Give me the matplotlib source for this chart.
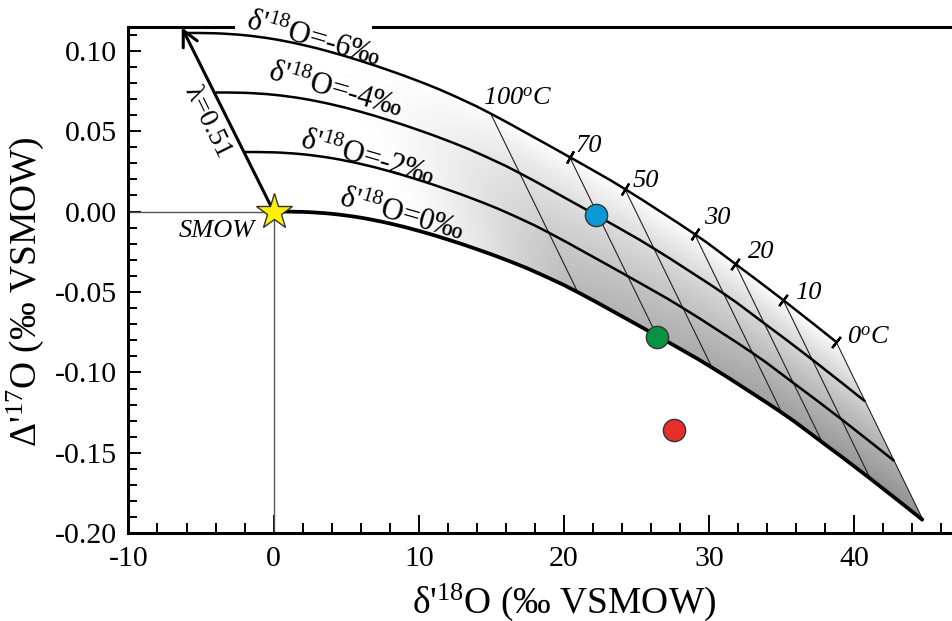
import numpy as np
import matplotlib.pyplot as plt
from matplotlib.path import Path
from matplotlib.patches import PathPatch
from matplotlib.ticker import MultipleLocator, FuncFormatter

plt.rcParams['font.family'] = ['Liberation Serif', 'DejaVu Serif']
plt.rcParams['mathtext.fontset'] = 'custom'
plt.rcParams['mathtext.rm'] = 'Liberation Serif'
plt.rcParams['mathtext.it'] = 'Liberation Serif:italic'
plt.rcParams['axes.unicode_minus'] = False

# water compositions on the lambda = 0.51 line (d'18O, D'17O)
water_d18 = [0, -2, -4, -6]
water_D17 = [0.0, 0.037, 0.074, 0.111]
water_names = ["δ'$^{18}$O=0‰", "δ'$^{18}$O=-2‰", "δ'$^{18}$O=-4‰", "δ'$^{18}$O=-6‰"]

# mineral - water offset on the hot side (above 100 C)
hot_d18 = [0.0, 2.0, 4.0, 6.0, 8.0, 10.0, 12.0, 14.0, 16.0, 18.0]
hot_D17 = [0.0, -0.0002, -0.0014, -0.0038, -0.0074, -0.0120, -0.0174, -0.0234, -0.0300, -0.0374]

# mineral - water offset at the labelled temperatures
iso_T = [100, 70, 50, 30, 20, 10, 0]
iso_names = ['100$^{o}$C', '70', '50', '30', '20', '10', '0$^{o}$C']
iso_d18 = [20.95, 26.4, 30.2, 35.0, 37.8, 41.1, 44.75]
iso_D17 = [-0.0501, -0.0772, -0.097, -0.125, -0.1435, -0.166, -0.192]

# measured samples
sample_d18 = [22.2, 26.4, 27.6]
sample_D17 = [-0.002, -0.078, -0.136]
sample_colors = ['#0a98d6', '#069442', '#e42f2a']

# end of the lambda = 0.51 arrow
lam_tip_d18, lam_tip_D17 = -6.33, 0.1145

xlim = (-10, 46.8)
ylim = (-0.20, 0.1149)

off_x = np.array(hot_d18 + iso_d18)
off_y = np.array(hot_D17 + iso_D17)


def smooth_verts(x, y):
    """Catmull-Rom through the points, returned as cubic Bezier vertices."""
    p = np.column_stack([x, y])
    q = np.vstack([p[:1], p, p[-1:]])
    verts = [p[0]]
    for i in range(len(p) - 1):
        p0, p1, p2, p3 = q[i], q[i + 1], q[i + 2], q[i + 3]
        verts += [p1 + (p2 - p0) / 6.0, p2 - (p3 - p1) / 6.0, p2]
    return np.array(verts)


def bezier_codes(n):
    return [Path.MOVETO] + [Path.CURVE4] * (n - 1)


fig = plt.figure(figsize=(9.53, 6.21), dpi=100)
ax = fig.add_axes([0.1348, 0.1412, 0.8652, 0.8158])
ax.set_xlim(*xlim)
ax.set_ylim(*ylim)

dw18 = water_d18[-1] - water_d18[0]
dw17 = water_D17[-1] - water_D17[0]

# grey band between the 0 and -6 permil curves
i0 = hot_d18.index(8.0)
ux, uy = off_x[i0:], off_y[i0:]
t = np.linspace(0, 1, 30)[:, None]
X = ux[None, :] + t * dw18
Y = uy[None, :] + t * dw17
amp = np.clip((ux - 10.0) / 10.5, 0, 1) ** 1.2 * (0.28 + 0.16 * np.clip((ux - 20.95) / 23.8, 0, 1))
C = 1 - amp[None, :] * (1 - t) ** 0.8
mesh = ax.pcolormesh(X, Y, C, shading='gouraud', cmap='gray', vmin=0, vmax=1, zorder=1)

lo = smooth_verts(water_d18[0] + ux, water_D17[0] + uy)
hi = smooth_verts(water_d18[-1] + ux, water_D17[-1] + uy)[::-1]
band = Path(np.vstack([lo, hi, lo[:1]]),
            bezier_codes(len(lo)) + [Path.LINETO] + [Path.CURVE4] * (len(hi) - 1) + [Path.CLOSEPOLY])
clip = PathPatch(band, transform=ax.transData, facecolor='none', edgecolor='none')
ax.add_patch(clip)
mesh.set_clip_path(clip)

# isotherms
for k in range(len(iso_T)):
    ax.plot([water_d18[-1] + iso_d18[k], water_d18[0] + iso_d18[k]],
            [water_D17[-1] + iso_D17[k], water_D17[0] + iso_D17[k]],
            color='#222222', lw=0.8, zorder=2)

# equilibrium curves for each water
for w18, w17 in zip(water_d18, water_D17):
    lw = 2.7 if w18 == 0 else 1.8
    v = smooth_verts(w18 + off_x, w17 + off_y)
    ax.add_patch(PathPatch(Path(v, bezier_codes(len(v))), facecolor='none',
                           edgecolor='k', lw=lw, zorder=3, capstyle='butt'))

# temperature ticks and labels along the -6 permil curve
nodes_x = water_d18[-1] + np.array(iso_d18)
nodes_y = water_D17[-1] + np.array(iso_D17)
disp = ax.transData.transform(np.column_stack([nodes_x, nodes_y]))
label_offsets = [(-5.8, 6.3), (4.1, 3.8), (5.5, 1.7), (6.5, 7.0), (9.1, 4.3), (8.9, 0.9), (7.7, -1.2)]
for k, T in enumerate(iso_T):
    if T != 100:
        a, b = disp[max(k - 1, 0)], disp[min(k + 1, len(iso_T) - 1)]
        ang = np.degrees(np.arctan2(b[1] - a[1], b[0] - a[0]))
        ax.plot(nodes_x[k], nodes_y[k], marker=(2, 2, ang), ms=10, mew=1.6,
                color='k', zorder=4)
    ax.annotate(iso_names[k], (nodes_x[k], nodes_y[k]), xytext=label_offsets[k],
                textcoords='offset points', fontsize=19, style='italic',
                ha='left', va='baseline')

# curve labels
curve_label_pos = [(8.83, -0.0027), (6.42, 0.0327), (4.23, 0.0749), (2.72, 0.1067)]
for name, (lx, ly) in zip(water_names, curve_label_pos):
    ax.text(lx, ly, name, fontsize=22, rotation=-16, rotation_mode='anchor',
            ha='center', va='center', zorder=4)

# reference lines through SMOW
ax.plot([xlim[0], water_d18[0]], [water_D17[0], water_D17[0]], color='#555555', lw=1.0, zorder=2)
ax.plot([water_d18[0], water_d18[0]], [ylim[0], water_D17[0]], color='#555555', lw=1.0, zorder=2)

# lambda = 0.51 arrow
ax.annotate('', xy=(lam_tip_d18, lam_tip_D17), xytext=(water_d18[0], water_D17[0]),
            arrowprops=dict(arrowstyle='->', lw=2.2, color='k', mutation_scale=28,
                            shrinkA=0, shrinkB=0), zorder=4)
ax.text(-4.57, 0.0556, 'λ=0.51', fontsize=20, rotation=-63.8, rotation_mode='anchor',
        ha='center', va='center')

# samples and SMOW
for sx, sy, c in zip(sample_d18, sample_D17, sample_colors):
    ax.plot(sx, sy, 'o', ms=16, mfc=c, mec='#333333', mew=1.0, zorder=6)
ax.plot(water_d18[0], water_D17[0], marker='*', ms=27, mfc='#fff200', mec='#333333',
        mew=1.0, zorder=7)
ax.text(-3.94, -0.0121, 'SMOW', fontsize=19, style='italic', ha='center', va='center')

# frame: open on the right, top line broken by the -6 permil label
for side in ['left', 'bottom']:
    ax.spines[side].set_linewidth(2.2)
ax.spines['top'].set_visible(False)
ax.spines['right'].set_visible(False)
ax.axhline(ylim[1], 0, 0.1267, color='k', lw=2.2, clip_on=False)
ax.axhline(ylim[1], 0.2965, 1, color='k', lw=2.2, clip_on=False)

ax.set_xticks([-10, 0, 10, 20, 30, 40])
ax.xaxis.set_minor_locator(MultipleLocator(2))
ax.set_yticks([-0.20, -0.15, -0.10, -0.05, 0.0, 0.05, 0.10])
ax.yaxis.set_minor_locator(MultipleLocator(0.01))
ax.yaxis.set_major_formatter(FuncFormatter(lambda v, pos: '0.00' if abs(v) < 1e-9 else f'{v:.2f}'))
ax.tick_params(axis='x', which='major', direction='in', length=13, width=1.4, pad=9, labelsize=21.5)
ax.tick_params(axis='x', which='minor', direction='in', length=7, width=1.4)
ax.tick_params(axis='y', which='major', direction='in', length=9.5, width=1.4, pad=8, labelsize=21.5)
ax.tick_params(axis='y', which='minor', direction='in', length=6.5, width=1.4)

ax.set_xlabel("δ'$^{18}$O (‰ VSMOW)", fontsize=27)
ax.set_ylabel("Δ'$^{17}$O (‰ VSMOW)", fontsize=27)
ax.xaxis.set_label_coords(0.528, -0.095)
ax.yaxis.set_label_coords(-0.10, 0.478)

fig.savefig('out.png', dpi=100)
